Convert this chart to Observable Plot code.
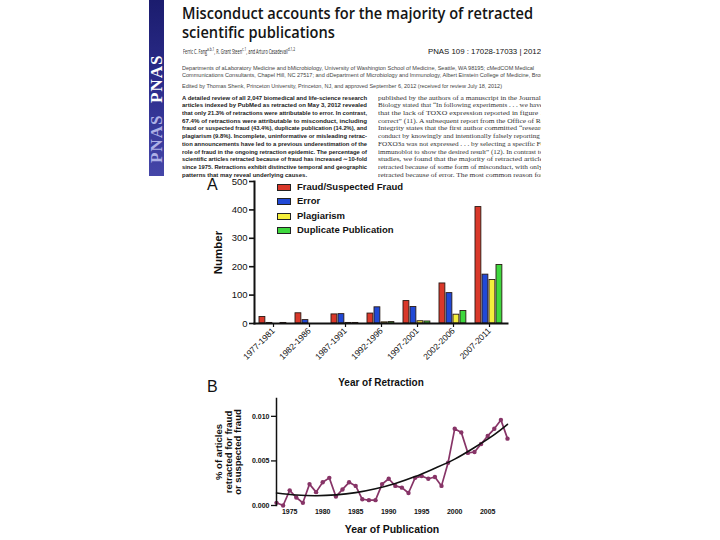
<!DOCTYPE html>
<html><head><meta charset="utf-8">
<script src="https://cdn.jsdelivr.net/npm/d3@7"></script>
<script src="https://cdn.jsdelivr.net/npm/@observablehq/plot@0.6"></script>
<style>
html,body{margin:0;padding:0;background:#fff;}
#page{position:relative;width:720px;height:540px;overflow:hidden;background:#fff;font-family:"Liberation Sans",Arial,sans-serif;}
.abs{position:absolute;white-space:nowrap;}
#paper{position:absolute;left:0;top:0;width:541px;height:180px;overflow:hidden;}
.fit{display:inline-block;transform-origin:0 50%;}
#sidebar{position:absolute;left:149px;top:0;width:15px;height:176px;background:linear-gradient(#1b1c6e,#2f3090 55%,#4546a8);}
.pnas{position:absolute;left:0;width:15px;writing-mode:vertical-rl;transform:rotate(180deg);font-family:"Liberation Serif",serif;font-weight:bold;font-size:17px;line-height:15px;text-align:center;letter-spacing:1px;}
.panel{position:absolute;font-family:"Liberation Sans",Arial,sans-serif;font-size:16px;line-height:16px;color:#111;}
.chart{position:absolute;}
.chart svg{overflow:visible;}
g[aria-label="y-axis label"] text, g[aria-label="x-axis label"] text{font-weight:bold;}
#chartA g[aria-label="y-axis label"] text{font-size:11.5px;}
#chartA g[aria-label="x-axis label"] text{font-size:10px;}
#chartB g[aria-label="y-axis label"] text{font-size:9.5px;}
#chartB g[aria-label="x-axis label"] text{font-size:10.5px;}
#chartB g[aria-label="y-axis tick label"] text, #chartB g[aria-label="x-axis tick label"] text{font-weight:bold;}
.leg{position:absolute;left:277px;height:9px;font-weight:bold;font-size:9.5px;color:#111;white-space:nowrap;}
.leg .sw{position:absolute;left:0;top:1px;width:12px;height:5px;border:1px solid #222;}
.leg .lb{position:absolute;left:20px;top:-2px;}
</style></head><body>
<div id="page">
  <div id="sidebar">
    <div class="pnas" style="top:50px;height:57px;color:#fff;">PNAS</div>
    <div class="pnas" style="top:110px;height:57px;color:#aeb0e6;">PNAS</div>
  </div>
  <div id="paper"></div>
  <div class="panel" style="left:207px;top:177px;">A</div>
  <div class="panel" style="left:207px;top:379px;">B</div>
  <div id="chartA" class="chart" style="left:200px;top:172px;"></div>
  <div id="legendA"></div>
  <div id="chartB" class="chart" style="left:200px;top:392px;"></div>
</div>
<script>
// ---------- Panel A data (retractions by year of retraction) ----------
const periods = ["1977-1981","1982-1986","1987-1991","1992-1996","1997-2001","2002-2006","2007-2011"];
const seriesNames = ["Fraud/Suspected Fraud","Error","Plagiarism","Duplicate Publication"];
const fraud      = [23, 36, 32, 35, 79, 141, 410];
const error      = [2, 12, 33, 57, 58, 107, 172];
const plagiarism = [0, 0, 2, 4, 8, 31, 153];
const duplicate  = [2, 0, 2, 5, 7, 44, 206];
const seriesColors = ["#d9382a","#2149d6","#f4ef3c","#3ed83e"];
const yTicksA = [0, 100, 200, 300, 400, 500];

// ---------- Panel B data (% retracted for fraud by year of publication) ----------
const pubYears = [1973,1974,1975,1976,1977,1978,1979,1980,1981,1982,1983,1984,1985,1986,1987,1988,1989,1990,1991,1992,1993,1994,1995,1996,1997,1998,1999,2000,2001,2002,2003,2004,2005,2006,2007,2008];
const fraudPct = [0.0003,0.0000,0.0017,0.0009,0.0003,0.0024,0.0015,0.0026,0.0031,0.0010,0.0018,0.0026,0.0022,0.0007,0.0006,0.0006,0.0024,0.0030,0.0022,0.0020,0.0014,0.0031,0.0033,0.0030,0.0032,0.0022,0.0048,0.0086,0.0082,0.0059,0.0060,0.0069,0.0078,0.0086,0.0096,0.0075];
const trendYears  = [1973,1976,1979,1982,1985,1988,1991,1994,1997,2000,2003,2006,2008];
const trendValues = [0.00140,0.00118,0.00110,0.00119,0.00144,0.00187,0.00247,0.00324,0.00418,0.00520,0.00650,0.00795,0.00910];
const yTicksB = [0, 0.005, 0.010];
const xTicksB = [1975, 1980, 1985, 1990, 1995, 2000, 2005];

// ---------- Paper header text ----------
const titleLines = ["Misconduct accounts for the majority of retracted","scientific publications"];
const authorsHTML = 'Ferric C. Fang<sup>a,b,1</sup>, R. Grant Steen<sup>c,1</sup>, and Arturo Casadevall<sup>d,1,2</sup>';
const citation = "PNAS 109 : 17028-17033 | 2012";
const affiliations = [
  "Departments of aLaboratory Medicine and bMicrobiology, University of Washington School of Medicine, Seattle, WA 98195; cMedCOM Medical",
  "Communications Consultants, Chapel Hill, NC 27517; and dDepartment of Microbiology and Immunology, Albert Einstein College of Medicine, Bronx, NY 10461"
];
const editedBy = "Edited by Thomas Shenk, Princeton University, Princeton, NJ, and approved September 6, 2012 (received for review July 18, 2012)";
const abstractLines = [
  "A detailed review of all 2,047 biomedical and life-science research",
  "articles indexed by PubMed as retracted on May 3, 2012 revealed",
  "that only 21.3% of retractions were attributable to error. In contrast,",
  "67.4% of retractions were attributable to misconduct, including",
  "fraud or suspected fraud (43.4%), duplicate publication (14.2%), and",
  "plagiarism (9.8%). Incomplete, uninformative or misleading retrac-",
  "tion announcements have led to a previous underestimation of the",
  "role of fraud in the ongoing retraction epidemic. The percentage of",
  "scientific articles retracted because of fraud has increased \u223c10-fold",
  "since 1975. Retractions exhibit distinctive temporal and geographic",
  "patterns that may reveal underlying causes."
];
const bodyLines = [
  "published by the authors of a manuscript in the Journal of Cell",
  "Biology stated that \u201cIn following experiments . . . we have shown",
  "that the lack of TOXO expression reported in figure 1 is not",
  "correct\u201d (11). A subsequent report from the Office of Research",
  "Integrity states that the first author committed \u201cresearch mis-",
  "conduct by knowingly and intentionally falsely reporting . . . that",
  "FOXO3a was not expressed . . . by selecting a specific FOXO3a",
  "immunoblot to show the desired result\u201d (12). In contrast to earlier",
  "studies, we found that the majority of retracted articles were",
  "retracted because of some form of misconduct, with only 21.3%",
  "retracted because of error. The most common reason for"
];

// ---------- Build header ----------
const paper = document.getElementById("paper");
function addLine(html, left, centerY, style, width) {
  const d = document.createElement("div");
  d.className = "abs";
  d.style.left = left + "px";
  d.style.top = (centerY - 4) + "px";
  d.style.height = "8px";
  d.style.lineHeight = "8px";
  const s = document.createElement("span");
  s.className = "fit";
  s.innerHTML = html;
  Object.assign(s.style, style);
  d.appendChild(s);
  paper.appendChild(d);
  if (width) {
    const w = s.getBoundingClientRect().width;
    s.style.transform = `scaleX(${width / w})`;
  }
  return s;
}
const titleStyle = {fontFamily: '"Open Sans", sans-serif', fontWeight: "600", fontSize: "16.5px", color: "#151515", lineHeight: "8px"};
const t1 = addLine(titleLines[0], 182, 13, titleStyle, 351);
const t2 = addLine(titleLines[1], 182, 32, titleStyle, null);
t2.style.transform = t1.style.transform;
addLine(authorsHTML, 183, 49, {fontFamily: '"Open Sans", sans-serif', fontSize: "6.2px", color: "#222"}, 112);
addLine(citation, 428, 49, {fontFamily: '"Liberation Sans", sans-serif', fontSize: "8px", color: "#111"}, 113);
addLine(affiliations[0], 182, 65, {fontFamily: '"Liberation Sans", sans-serif', fontSize: "5px", color: "#444"}, 352);
addLine(affiliations[1], 182, 72, {fontFamily: '"Liberation Sans", sans-serif', fontSize: "5px", color: "#444"}, 392);
addLine(editedBy, 182, 83, {fontFamily: '"Liberation Sans", sans-serif', fontSize: "5px", color: "#444"}, 320);
abstractLines.forEach((l, i) => {
  addLine(l, 182, 94.5 + 7.73 * i, {fontFamily: '"Liberation Sans", sans-serif', fontWeight: "bold", fontSize: "6px", color: "#1a1a1a"}, i < abstractLines.length - 1 ? 185 : null);
});
bodyLines.forEach((l, i) => {
  addLine(l, 378, 94.5 + 7.73 * i, {fontFamily: '"Liberation Serif", serif', fontSize: "7px", color: "#333"}, i < bodyLines.length - 1 ? 185 : 165);
});

// ---------- Panel A ----------
const WA = 320, HA = 218, MLA = 54, MRA = 13, MTA = 9, MBA = 67;
const bandW = (WA - MLA - MRA) / periods.length;
const seriesValues = [fraud, error, plagiarism, duplicate];
const barMarks = seriesValues.map((vals, i) =>
  Plot.barY(periods.map((p, j) => ({period: p, value: vals[j], series: seriesNames[i]})), {
    x: "period", y: "value", fill: seriesColors[i], stroke: "#2a1a14", strokeWidth: 0.9,
    insetLeft: 4 + 7 * i, insetRight: bandW - 4 - 7 * i - 6
  })
);
const chartA = Plot.plot({
  width: WA, height: HA, marginLeft: MLA, marginRight: MRA, marginTop: MTA, marginBottom: MBA,
  style: {fontFamily: '"Liberation Sans", Arial, sans-serif', color: "#111", background: "transparent"},
  x: {type: "band", domain: periods, padding: 0},
  y: {domain: [0, 500]},
  marks: [
    ...barMarks,
    Plot.axisY({ticks: yTicksA, tickSize: 5, tickPadding: 2, fontSize: 9.5, strokeWidth: 1.6,
      label: "Number", labelAnchor: "center", labelOffset: 41, labelArrow: "none"}),
    Plot.axisX({tickRotate: -45, tickSize: 4, tickPadding: 2, fontSize: 8.5, strokeWidth: 1.2,
      label: "Year of Retraction", labelAnchor: "center", labelOffset: 62, labelArrow: "none"}),
    Plot.frame({anchor: "left", strokeWidth: 2, stroke: "#111"}),
    Plot.frame({anchor: "bottom", strokeWidth: 2, stroke: "#111"})
  ]
});
document.getElementById("chartA").appendChild(chartA);

// Legend A
const legendA = document.getElementById("legendA");
seriesNames.forEach((name, i) => {
  const row = document.createElement("div");
  row.className = "leg";
  row.style.top = (183 + 14.4 * i) + "px";
  row.innerHTML = `<div class="sw" style="background:${seriesColors[i]}"></div><div class="lb">${name}</div>`;
  legendA.appendChild(row);
});

// ---------- Panel B ----------
const purple = "#873467";
const pubData = pubYears.map((y, i) => ({year: y, pct: fraudPct[i]}));
const trendData = trendYears.map((y, i) => ({year: y, pct: trendValues[i]}));
const chartB = Plot.plot({
  width: 320, height: 148, marginLeft: 76, marginRight: 13, marginTop: 6, marginBottom: 35,
  style: {fontFamily: '"Liberation Sans", Arial, sans-serif', color: "#111", background: "transparent"},
  x: {domain: [1973, 2008]},
  y: {domain: [0, 0.012]},
  marks: [
    Plot.line(pubData, {x: "year", y: "pct", stroke: purple, strokeWidth: 1.7}),
    Plot.dot(pubData, {x: "year", y: "pct", r: 2.2, fill: purple, stroke: "none"}),
    Plot.line(trendData, {x: "year", y: "pct", curve: "natural", stroke: "#111", strokeWidth: 1.6}),
    Plot.axisY({ticks: yTicksB, tickFormat: d3.format(".3f"), tickSize: 5, tickPadding: 2, fontSize: 7, strokeWidth: 1.3,
      label: "% of articles\nretracted for fraud\nor suspected fraud", labelAnchor: "center", labelOffset: 61, labelArrow: "none"}),
    Plot.axisX({ticks: xTicksB, tickFormat: d => String(d), tickSize: 0, tickPadding: 4, fontSize: 7,
      label: "Year of Publication", labelAnchor: "center", labelOffset: 27, labelArrow: "none"}),
    Plot.frame({anchor: "left", strokeWidth: 1.5, stroke: "#111"})
  ]
});
document.getElementById("chartB").appendChild(chartB);
</script>
</body></html>
